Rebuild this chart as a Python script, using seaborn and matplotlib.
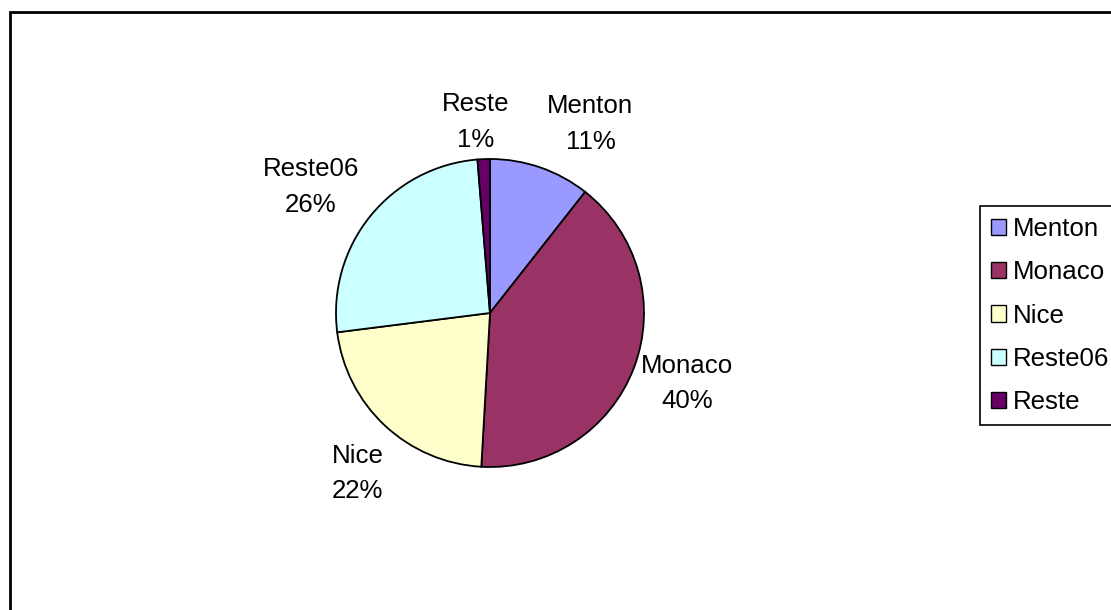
import numpy as np
import matplotlib
matplotlib.use("Agg")
import matplotlib.pyplot as plt
from matplotlib.patches import Rectangle, Patch
import seaborn as sns

# data (percent shares)
villes = ["Menton", "Monaco", "Nice", "Reste06", "Reste"]
parts = [10.6, 40.3, 22.1, 25.7, 1.3]
couleurs = ["#9999FF", "#993366", "#FFFFCC", "#CCFFFF", "#660066"]

sns.set_theme(style="white")
plt.rcParams["font.family"] = ["Liberation Sans", "DejaVu Sans"]
plt.rcParams["text.color"] = "black"

W, H = 1111, 610
fig = plt.figure(figsize=(W / 100, H / 100), dpi=100)
ax = fig.add_axes([0, 0, 1, 1])

centre = (490, 297)
rayon = 154
wedges, _ = ax.pie(parts, colors=couleurs, startangle=90, counterclock=False,
                   center=centre, radius=rayon,
                   wedgeprops=dict(edgecolor="black", linewidth=1.3))
ax.set_xlim(0, W)
ax.set_ylim(0, H)
ax.set_aspect("equal")
ax.axis("off")

# labels outside, excel style
dist = 200
decalage = [(35, 0), (10, 0), (4, -14), (-24, 0), (-6, -9)]
total = sum(parts)
for w, nom, p, (nx, ny) in zip(wedges, villes, parts, decalage):
    a = np.deg2rad((w.theta1 + w.theta2) / 2)
    x = centre[0] + dist * np.cos(a) + nx
    y = centre[1] + dist * np.sin(a) + ny
    ax.text(x, y, f"{nom}\n{round(p / total * 100):.0f}%", ha="center", va="center",
            fontsize=18.6, color="black", linespacing=1.6)

# outer frame
ax.add_patch(Rectangle((10, -20), 1200, H - 12 + 20, fill=False,
                       edgecolor="black", linewidth=2, clip_on=False))

poignees = [Patch(facecolor=c, edgecolor="black", linewidth=1) for c in couleurs]
leg = ax.legend(poignees, villes, loc="upper left",
                bbox_to_anchor=(980 / W, (H - 206) / H), bbox_transform=fig.transFigure,
                fontsize=18.6, frameon=True, fancybox=False, framealpha=1,
                edgecolor="black", borderpad=0.42, borderaxespad=0,
                handlelength=0.58, handleheight=0.58, handletextpad=0.27,
                labelspacing=0.75)
leg.get_frame().set_linewidth(1.2)
for t in leg.get_texts():
    t.set_color("black")

fig.savefig("out.png", dpi=100)
